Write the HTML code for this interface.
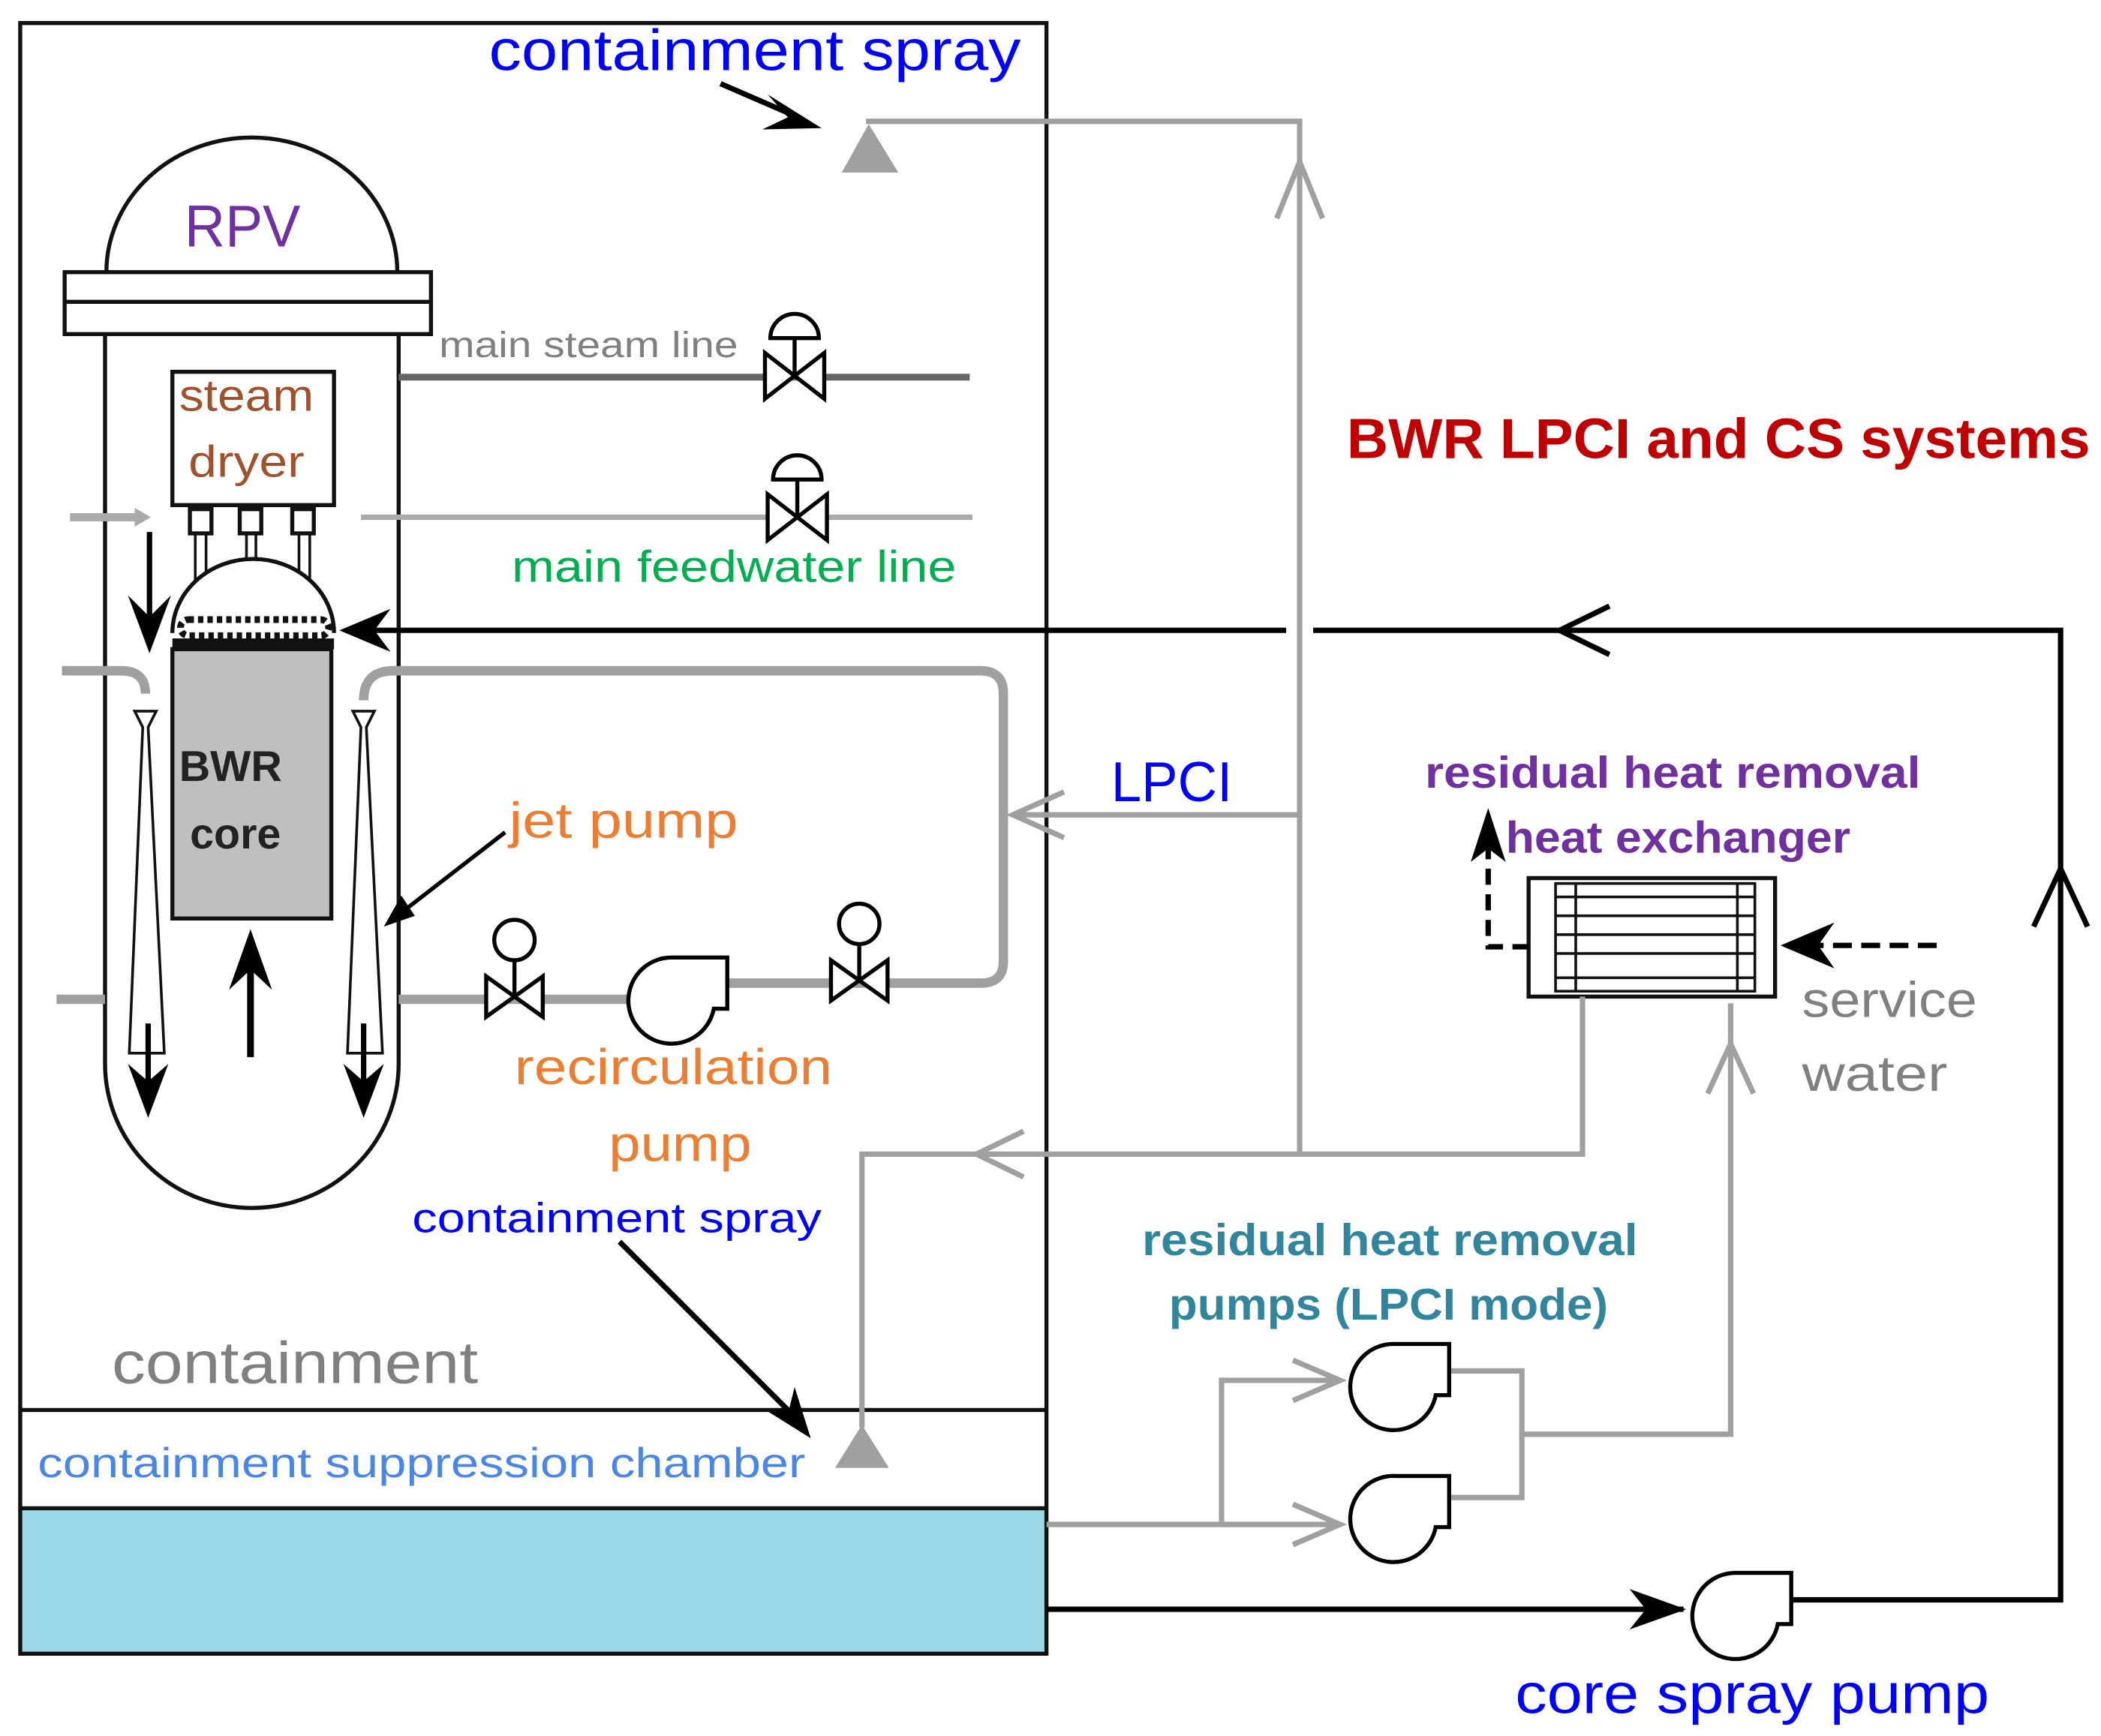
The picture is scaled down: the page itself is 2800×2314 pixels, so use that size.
<!DOCTYPE html>
<html><head><meta charset="utf-8"><style>html,body{margin:0;padding:0;background:#fff}svg{display:block}text{font-family:"Liberation Sans",sans-serif}</style></head><body>
<svg width="2800" height="2314" viewBox="0 0 1560 1289" xmlns="http://www.w3.org/2000/svg">
<defs>
<g id="valve"><path d="M-22,-17 L22,17 L22,-17 L-22,17 Z" fill="#fff" stroke="#000" stroke-width="3"/><line x1="0" y1="0" x2="0" y2="-28" stroke="#000" stroke-width="3"/><path d="M-18,-28 A18,18 0 0 1 18,-28 Z" fill="#fff" stroke="#000" stroke-width="3"/></g>
<g id="valve2"><path d="M-21,-15 L21,15 L21,-15 L-21,15 Z" fill="#fff" stroke="#000" stroke-width="3"/><line x1="0" y1="0" x2="0" y2="-28" stroke="#000" stroke-width="3"/><circle cx="0" cy="-42" r="15" fill="#fff" stroke="#000" stroke-width="3"/></g>
<g id="pump"><path d="M40,-32 L0,-32 A32,32 0 1 0 30,6 L40,6 Z" fill="#fff" stroke="#000" stroke-width="3"/></g>
</defs>
<!-- containment -->
<rect x="15" y="1120" width="762" height="108" fill="#9ad8e8"/>
<rect x="15" y="17" width="762" height="1211" fill="none" stroke="#111" stroke-width="3"/>
<line x1="15" y1="1047" x2="777" y2="1047" stroke="#111" stroke-width="3"/>
<line x1="15" y1="1120" x2="777" y2="1120" stroke="#111" stroke-width="3"/>
<!-- RPV -->
<path d="M79,202 A108,100 0 0 1 295,202" fill="#fff" stroke="#111" stroke-width="3"/>
<rect x="48" y="202" width="272" height="46" fill="#fff" stroke="#111" stroke-width="3"/>
<line x1="48" y1="224" x2="320" y2="224" stroke="#111" stroke-width="3"/>
<path d="M78,248 V790 A109,107 0 0 0 296,790 V248" fill="none" stroke="#111" stroke-width="3"/>
<text x="137" y="183" font-size="44" fill="#7030a0" textLength="86" lengthAdjust="spacingAndGlyphs">RPV</text>
<!-- lines -->
<line x1="296" y1="280" x2="720" y2="280" stroke="#666" stroke-width="5"/>
<text x="326" y="265" font-size="27" fill="#808080" textLength="222" lengthAdjust="spacingAndGlyphs">main steam line</text>
<use href="#valve" x="590" y="279"/>
<line x1="268" y1="384" x2="722" y2="384" stroke="#aaa" stroke-width="4"/>
<use href="#valve" x="592" y="384"/>
<text x="380" y="432" font-size="33" fill="#00b050" textLength="330" lengthAdjust="spacingAndGlyphs">main feedwater line</text>
<line x1="52" y1="384" x2="105" y2="384" stroke="#aaa" stroke-width="6"/><path d="M100,377 L112,384 L100,391Z" fill="#aaa"/>
<!-- steam dryer -->
<rect x="128" y="276" width="120" height="99" fill="#fff" stroke="#111" stroke-width="3"/>
<text x="133" y="305" font-size="33" fill="#a0522d" textLength="100" lengthAdjust="spacingAndGlyphs">steam</text>
<text x="140" y="354" font-size="33" fill="#a0522d" textLength="86" lengthAdjust="spacingAndGlyphs">dryer</text>
<g fill="#fff" stroke="#111" stroke-width="3"><rect x="141" y="378" width="16" height="18"/><rect x="178" y="378" width="16" height="18"/><rect x="217" y="378" width="16" height="18"/></g>
<g stroke="#111" stroke-width="2"><line x1="145" y1="396" x2="145" y2="440"/><line x1="153" y1="396" x2="153" y2="430"/><line x1="183" y1="396" x2="183" y2="418"/><line x1="190" y1="396" x2="190" y2="418"/><line x1="222" y1="396" x2="222" y2="430"/><line x1="230" y1="396" x2="230" y2="440"/></g>
<path d="M128,470 A60,55 0 0 1 248,470" fill="#fff" stroke="#111" stroke-width="3"/>
<rect x="134" y="460" width="110" height="12" rx="6" fill="#fff" stroke="#111" stroke-width="5" stroke-dasharray="4 3"/>
<rect x="128" y="474" width="120" height="8" fill="#111"/>
<rect x="128" y="482" width="118" height="200" fill="#bfbfbf" stroke="#111" stroke-width="3"/>
<text x="133" y="580" font-size="32" font-weight="bold" fill="#222">BWR</text>
<text x="141" y="630" font-size="32" font-weight="bold" fill="#222">core</text>
<!-- down arrows -->
<line x1="111" y1="395" x2="111" y2="470" stroke="#000" stroke-width="4"/><path d="M95,442 L111,485 L127,442 L111,458Z" fill="#000"/>
<line x1="186" y1="785" x2="186" y2="710" stroke="#000" stroke-width="5"/><path d="M170,735 L186,690 L202,735 L186,720Z" fill="#000"/>
<!-- jet pumps -->
<g fill="#fff" stroke="#111" stroke-width="2"><path d="M100,528 L116,528 L110,540 L122,782 L96,782 L106,540Z"/><path d="M262,528 L278,528 L272,540 L284,782 L258,782 L268,540Z"/></g>
<line x1="110" y1="760" x2="110" y2="810" stroke="#000" stroke-width="4"/><path d="M95,790 L110,830 L125,790 L110,803Z" fill="#000"/>
<line x1="270" y1="760" x2="270" y2="810" stroke="#000" stroke-width="4"/><path d="M255,790 L270,830 L285,790 L270,803Z" fill="#000"/>
<!-- recirc loop -->
<path d="M46,498 H90 Q108,498 108,515" fill="none" stroke="#a0a0a0" stroke-width="7"/>
<path d="M270,520 Q270,498 292,498 H728 Q745,498 745,515 V714 Q745,730 728,730 H540" fill="none" stroke="#a0a0a0" stroke-width="7"/>
<line x1="42" y1="742" x2="78" y2="742" stroke="#a0a0a0" stroke-width="7"/>
<line x1="296" y1="742" x2="470" y2="742" stroke="#a0a0a0" stroke-width="7"/>
<use href="#valve2" x="382" y="740"/>
<use href="#valve2" x="638" y="728"/>
<use href="#pump" x="500" y="743"/>
<text x="382" y="805" font-size="37" fill="#ed7d31" textLength="236" lengthAdjust="spacingAndGlyphs">recirculation</text>
<text x="452" y="862" font-size="37" fill="#ed7d31" textLength="106" lengthAdjust="spacingAndGlyphs">pump</text>
<text x="378" y="622" font-size="37" fill="#ed7d31" textLength="170" lengthAdjust="spacingAndGlyphs">jet pump</text>
<line x1="375" y1="618" x2="295" y2="680" stroke="#000" stroke-width="3"/><path d="M285,688 L298,665 L308,680Z" fill="#000"/>
<!-- containment spray top -->
<text x="363" y="52" font-size="43" fill="#0000ff" textLength="395" lengthAdjust="spacingAndGlyphs">containment spray</text>
<line x1="535" y1="62" x2="595" y2="88" stroke="#000" stroke-width="4"/><path d="M610,95 L570,70 L585,87 L566,96Z" fill="#000"/>
<path d="M625,128 L645,92 L667,128Z" fill="#a0a0a0"/>
<path d="M645,92 V90 H965 V857" fill="none" stroke="#a0a0a0" stroke-width="4"/>
<path d="M948,162 L965,120 L982,162" fill="none" stroke="#a0a0a0" stroke-width="4"/>
<!-- LPCI -->
<line x1="965" y1="605" x2="752" y2="605" stroke="#a0a0a0" stroke-width="4"/><path d="M790,588 L752,605 L790,622" fill="none" stroke="#a0a0a0" stroke-width="4"/>
<text x="825" y="595" font-size="42" fill="#0000ff" textLength="90" lengthAdjust="spacingAndGlyphs">LPCI</text>
<!-- core spray black loop -->
<path d="M777,1195 H1250" stroke="#000" stroke-width="4" fill="none"/><path d="M1210,1180 L1252,1195 L1210,1210 L1222,1195Z" fill="#000"/>
<use href="#pump" x="1290" y="1200"/>
<path d="M1330,1188 H1530 V468 H975" stroke="#000" stroke-width="4" fill="none"/>
<path d="M955,468 H260" stroke="#000" stroke-width="4" fill="none"/>
<path d="M290,452 L252,468 L290,484 L278,468Z" fill="#000"/>
<path d="M1195,450 L1158,468 L1195,486" fill="none" stroke="#000" stroke-width="4"/>
<path d="M1510,688 L1530,645 L1550,688" fill="none" stroke="#000" stroke-width="4"/>
<text x="1125" y="1272" font-size="42" fill="#0000ff" textLength="352" lengthAdjust="spacingAndGlyphs">core spray pump</text>
<text x="1000" y="340" font-size="42" font-weight="bold" fill="#c00000" textLength="552" lengthAdjust="spacingAndGlyphs">BWR LPCI and CS systems</text>
<!-- HX -->
<rect x="1135" y="652" width="183" height="88" fill="#fff" stroke="#111" stroke-width="3"/>
<rect x="1155" y="656" width="148" height="80" fill="#fff" stroke="#111" stroke-width="2"/>
<g stroke="#111" stroke-width="2"><line x1="1155" y1="666" x2="1303" y2="666"/><line x1="1155" y1="726" x2="1303" y2="726"/><line x1="1155" y1="680" x2="1303" y2="680"/><line x1="1155" y1="694" x2="1303" y2="694"/><line x1="1155" y1="708" x2="1303" y2="708"/><line x1="1170" y1="656" x2="1170" y2="736"/><line x1="1290" y1="656" x2="1290" y2="736"/></g>
<text x="1058" y="585" font-size="33" font-weight="bold" fill="#7030a0" textLength="368" lengthAdjust="spacingAndGlyphs">residual heat removal</text>
<text x="1118" y="633" font-size="33" font-weight="bold" fill="#7030a0" textLength="256" lengthAdjust="spacingAndGlyphs">heat exchanger</text>
<path d="M1135,703 H1105 V620" fill="none" stroke="#000" stroke-width="4" stroke-dasharray="12 7"/><path d="M1092,640 L1105,600 L1118,640 L1105,630Z" fill="#000"/>
<line x1="1438" y1="702" x2="1335" y2="702" stroke="#000" stroke-width="4" stroke-dasharray="14 7"/><path d="M1362,685 L1322,702 L1362,719 L1350,702Z" fill="#000"/>
<text x="1338" y="755" font-size="37" fill="#808080" textLength="130" lengthAdjust="spacingAndGlyphs">service</text>
<text x="1338" y="810" font-size="37" fill="#808080" textLength="108" lengthAdjust="spacingAndGlyphs">water</text>
<!-- gray RHR lines -->
<path d="M1175,740 V857 H640 V1060" fill="none" stroke="#a0a0a0" stroke-width="4"/>
<path d="M760,840 L725,857 L760,874" fill="none" stroke="#a0a0a0" stroke-width="4"/>
<path d="M620,1090 L640,1058 L660,1090Z" fill="#a0a0a0"/>
<path d="M1285,745 V1065 H1130" fill="none" stroke="#a0a0a0" stroke-width="4"/>
<path d="M1268,812 L1285,775 L1302,812" fill="none" stroke="#a0a0a0" stroke-width="4"/>
<path d="M777,1132 H990 M907,1132 V1025 H990 M1075,1018 H1130 V1112 H1075" fill="none" stroke="#a0a0a0" stroke-width="4"/>
<path d="M960,1010 L995,1025 L960,1040" fill="none" stroke="#a0a0a0" stroke-width="4"/>
<path d="M960,1117 L995,1132 L960,1147" fill="none" stroke="#a0a0a0" stroke-width="4"/>
<use href="#pump" x="1036" y="1030"/>
<use href="#pump" x="1036" y="1128"/>
<text x="848" y="932" font-size="33" font-weight="bold" fill="#31859c" textLength="368" lengthAdjust="spacingAndGlyphs">residual heat removal</text>
<text x="868" y="980" font-size="33" font-weight="bold" fill="#31859c" textLength="326" lengthAdjust="spacingAndGlyphs">pumps (LPCI mode)</text>
<!-- bottom labels -->
<text x="306" y="915" font-size="31" fill="#0000ff" textLength="304" lengthAdjust="spacingAndGlyphs">containment spray</text>
<line x1="460" y1="922" x2="590" y2="1052" stroke="#000" stroke-width="4"/><path d="M602,1068 L570,1048 L586,1046 L590,1030Z" fill="#000"/>
<text x="83" y="1027" font-size="44" fill="#808080" textLength="272" lengthAdjust="spacingAndGlyphs">containment</text>
<text x="28" y="1097" font-size="31" fill="#4a86e8" textLength="570" lengthAdjust="spacingAndGlyphs">containment suppression  chamber</text>
</svg>
</body></html>
